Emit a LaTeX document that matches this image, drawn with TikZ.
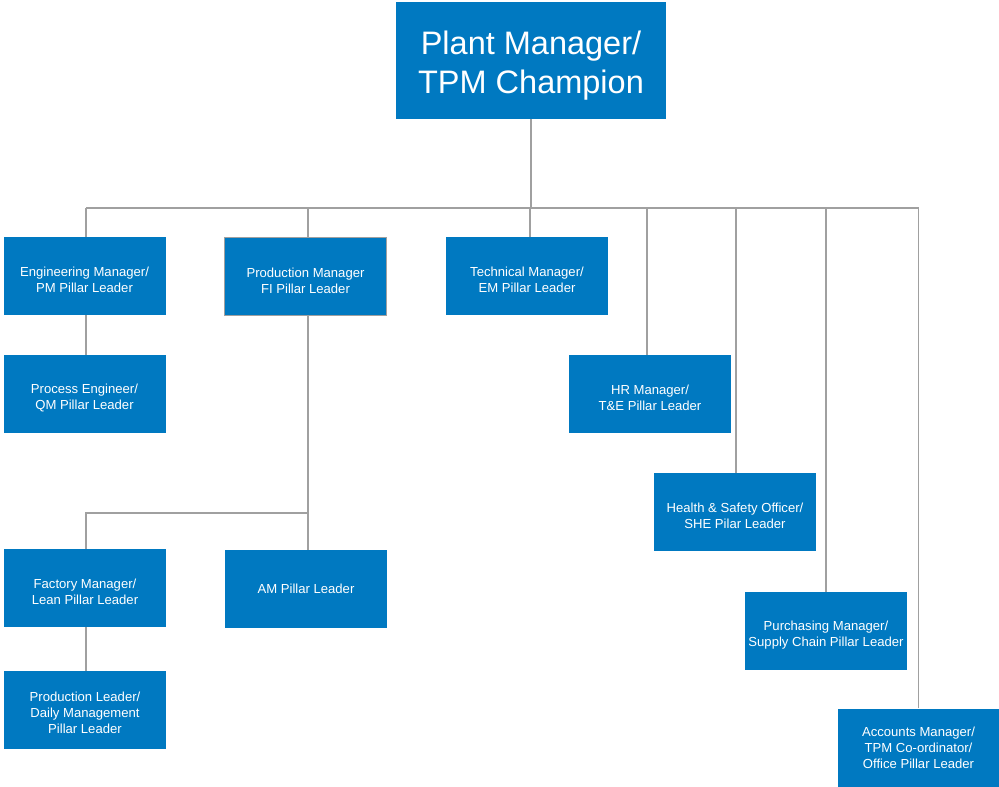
\documentclass[tikz,border=0pt]{standalone}
\usepackage{fontspec}
\setmainfont{Liberation Sans}
\usetikzlibrary{positioning}
\definecolor{boxblue}{RGB}{0,121,193}
\definecolor{linegray}{RGB}{160,160,160}
\newcommand{\lift}[1]{\rule{0pt}{#1pt}}

\begin{document}
\begin{tikzpicture}
[x=1pt,y=-1pt,%
  every node/.style={fill=boxblue,text=white,align=center,inner sep=0pt,%
    minimum width=162,minimum height=78,font=\fontsize{13.1}{16}\selectfont},%
  link/.style={draw=linegray,line width=1.2pt}]
\useasboundingbox (0,0) rectangle (999,787);
% top
\node[minimum width=270,minimum height=117,font=\fontsize{32.5}{39}\selectfont]
  (pm) at (531,60.5) {\lift{34}Plant Manager/\\TPM Champion};
% first row
\node (eng) at (84.5,276) {\lift{18}Engineering Manager/\\PM Pillar Leader};
\node[draw=linegray] (prod) at (305.5,276.5) {\lift{18}Production Manager\\FI Pillar Leader};
\node (tech) at (527,276) {\lift{18}Technical Manager/\\EM Pillar Leader};
\node (proc) at (84.5,394) {\lift{18}Process Engineer/\\QM Pillar Leader};
\node (hr) at (650,394) {\lift{18}HR Manager/\\T\&E Pillar Leader};
\node (hse) at (735,512) {\lift{18}Health \& Safety Officer/\\SHE Pilar Leader};
\node (pur) at (826,631) {\lift{18}Purchasing Manager/\\Supply Chain Pillar Leader};
\node (acc) at (918.5,747.5) {Accounts Manager/\\TPM Co-ordinator/\\Office Pillar Leader};
% under production
\node (fac) at (85,588) {\lift{18}Factory Manager/\\Lean Pillar Leader};
\node (am) at (306,589) {AM Pillar Leader};
\node (pl) at (85,710) {\lift{16}Production Leader/\\Daily Management\\Pillar Leader};
\coordinate (bus) at (0,208);
\coordinate (sub) at (0,513);
\draw[link] (pm.south) -- (pm.south |- bus);
\draw[link] ([xshift=1.5]eng.north |- bus) -- (acc.north |- bus);
\foreach \n/\dx in {eng/1.5,prod/2.5,tech/3,hr/-3,hse/1,pur/0,acc/0}
  \draw[link] ([xshift=\dx]\n.north) -- ([xshift=\dx]\n.north |- bus);
\draw[link] ([xshift=1.5]eng.south) -- ([xshift=1.5]proc.north);
\draw[link] ([xshift=2.5]prod.south) -- ([xshift=2.5]prod.south |- sub) -| ([xshift=1]fac.north);
\draw[link] ([xshift=2]am.north) -- ([xshift=2]am.north |- sub);
\draw[link] ([xshift=1]fac.south) -- ([xshift=1]pl.north);
\end{tikzpicture}
\end{document}
